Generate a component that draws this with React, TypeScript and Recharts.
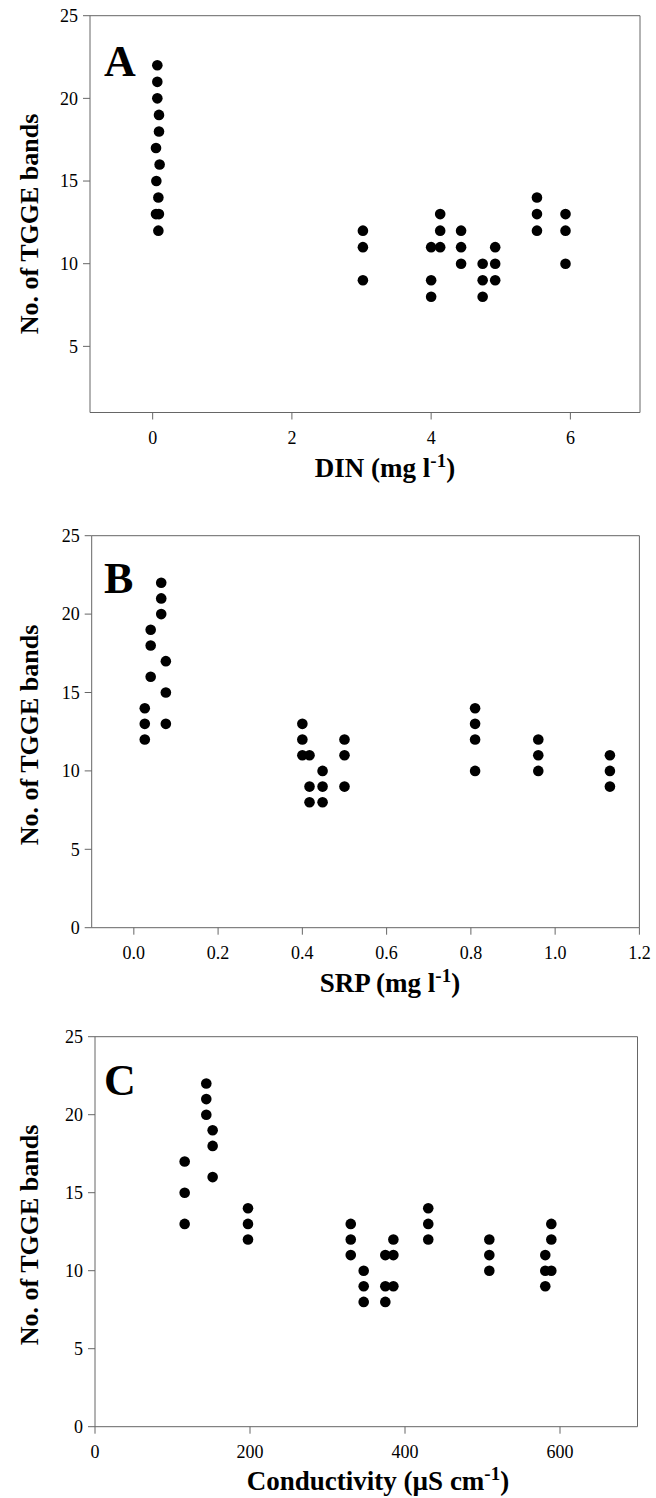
import React from 'react';
import { ScatterChart, Scatter, XAxis, YAxis, ReferenceLine } from 'recharts';

// Panel A: DIN (mg l-1) vs number of TGGE bands
const dinValues = [0.067, 0.067, 0.067, 0.091, 0.091, 0.048, 0.1, 0.053, 0.082, 0.048, 0.09, 0.082,
  3.02, 3.02, 3.02, 4.0, 4.0, 4.0, 4.13, 4.13, 4.13, 4.43, 4.43, 4.43,
  4.74, 4.74, 4.74, 4.92, 4.92, 4.92, 5.52, 5.52, 5.52, 5.93, 5.93, 5.93];
const dinBands = [22, 21, 20, 19, 18, 17, 16, 15, 14, 13, 13, 12,
  12, 11, 9, 11, 9, 8, 13, 12, 11, 12, 11, 10,
  10, 9, 8, 11, 10, 9, 14, 13, 12, 13, 12, 10];

// Panel B: SRP (mg l-1)
const srpValues = [0.065, 0.065, 0.065, 0.04, 0.04, 0.04, 0.076, 0.076, 0.076, 0.026, 0.026, 0.026,
  0.4, 0.4, 0.4, 0.417, 0.417, 0.417, 0.448, 0.448, 0.448, 0.5, 0.5, 0.5,
  0.81, 0.81, 0.81, 0.81, 0.96, 0.96, 0.96, 1.13, 1.13, 1.13];
const srpBands = [22, 21, 20, 19, 18, 16, 17, 15, 13, 14, 13, 12,
  13, 12, 11, 11, 9, 8, 10, 9, 8, 12, 11, 9,
  14, 13, 12, 10, 12, 11, 10, 11, 10, 9];

// Panel C: Conductivity (uS cm-1)
const condValues = [115.7, 115.7, 115.7, 143.6, 143.6, 143.6, 151.8, 151.8, 151.8, 197.4, 197.4, 197.4,
  330, 330, 330, 346.7, 346.7, 346.7, 374.6, 374.6, 374.6, 385, 385, 385,
  430, 430, 430, 508.8, 508.8, 508.8, 581, 581, 581, 588.8, 588.8, 588.8];
const condBands = [17, 15, 13, 22, 21, 20, 19, 18, 16, 14, 13, 12,
  13, 12, 11, 10, 9, 8, 11, 9, 8, 12, 11, 9,
  14, 13, 12, 12, 11, 10, 11, 10, 9, 13, 12, 10];

const dinTicks = [0, 2, 4, 6];
const srpTicks = [0, 0.2, 0.4, 0.6, 0.8, 1.0, 1.2];
const condTicks = [0, 200, 400, 600];
const bandTicksA = [5, 10, 15, 20, 25];
const bandTicks = [0, 5, 10, 15, 20, 25];

const toData = (xs: number[], ys: number[]) => xs.map((x, i) => ({ x, y: ys[i] }));

const FONT = '"Liberation Serif", "Times New Roman", serif';
const AXIS = '#666';

const Dot = (props: any) => <circle cx={props.cx} cy={props.cy} r={5.3} fill="#000" />;

type PanelProps = {
  top: number;
  height: number;
  margin: { top: number; right: number; bottom: number; left: number };
  xDomain: [number, number];
  yDomain: [number, number];
  xTicks: number[];
  yTicks: number[];
  data: { x: number; y: number }[];
  fmt?: (v: number) => string;
};

const Panel = ({ top, height, margin, xDomain, yDomain, xTicks, yTicks, data, fmt }: PanelProps) => (
  <div style={{ position: 'absolute', left: 0, top }}>
    <ScatterChart width={656} height={height} margin={margin}>
      <XAxis
        type="number"
        dataKey="x"
        domain={xDomain}
        ticks={xTicks}
        allowDataOverflow
        height={40}
        tickSize={7}
        tickMargin={12}
        tickFormatter={fmt}
        stroke={AXIS}
        tick={{ fill: '#000', fontSize: 18, fontFamily: FONT }}
        interval={0}
      />
      <YAxis
        type="number"
        dataKey="y"
        domain={yDomain}
        ticks={yTicks}
        allowDataOverflow
        width={50}
        tickSize={7}
        tickMargin={5}
        stroke={AXIS}
        tick={{ fill: '#000', fontSize: 18, fontFamily: FONT }}
        interval={0}
      />
      <ReferenceLine y={yDomain[1]} stroke={AXIS} />
      <ReferenceLine x={xDomain[1]} stroke={AXIS} />
      <Scatter data={data} shape={Dot} isAnimationActive={false} />
    </ScatterChart>
  </div>
);

const YTitle = ({ cy }: { cy: number }) => (
  <text
    x={29}
    y={cy}
    transform={`rotate(-90 29 ${cy})`}
    textAnchor="middle"
    dominantBaseline="central"
    fontFamily={FONT}
    fontWeight="bold"
    fontSize={26}
  >
    No. of TGGE bands
  </text>
);

const XTitle = ({ cx, y, main }: { cx: number; y: number; main: string }) => (
  <text x={cx} y={y} textAnchor="middle" fontFamily={FONT} fontWeight="bold" fontSize={27}>
    {main}
    <tspan dy={-10} fontSize={19}>-1</tspan>
    <tspan dy={10}>)</tspan>
  </text>
);

const Letter = ({ y, t }: { y: number; t: string }) => (
  <text x={104} y={y} fontFamily={FONT} fontWeight="bold" fontSize={44}>{t}</text>
);

export default function App() {
  return (
    <div style={{ position: 'absolute', left: 0, top: 0, width: 656, height: 1498, background: '#fff', overflow: 'hidden' }}>
      <Panel
        top={0}
        height={500}
        margin={{ top: 15.7, right: 16, bottom: 47.5, left: 40 }}
        xDomain={[-0.9, 7]}
        yDomain={[1, 25]}
        xTicks={dinTicks}
        yTicks={bandTicksA}
        data={toData(dinValues, dinBands)}
      />
      <Panel
        top={500}
        height={510}
        margin={{ top: 35.7, right: 16.6, bottom: 42.3, left: 41.7 }}
        xDomain={[-0.1, 1.2]}
        yDomain={[0, 25]}
        xTicks={srpTicks}
        yTicks={bandTicks}
        data={toData(srpValues, srpBands)}
        fmt={(v: number) => v.toFixed(1)}
      />
      <Panel
        top={1010}
        height={488}
        margin={{ top: 26.7, right: 18.5, bottom: 31.3, left: 45 }}
        xDomain={[0, 700]}
        yDomain={[0, 25]}
        xTicks={condTicks}
        yTicks={bandTicks}
        data={toData(condValues, condBands)}
      />
      <svg width={656} height={1498} style={{ position: 'absolute', left: 0, top: 0, pointerEvents: 'none' }}>
        <YTitle cy={224} />
        <YTitle cy={735} />
        <YTitle cy={1235} />
        <XTitle cx={385} y={477} main="DIN (mg l" />
        <XTitle cx={390} y={992} main="SRP (mg l" />
        <XTitle cx={378} y={1490} main="Conductivity (µS cm" />
        <Letter y={76} t="A" />
        <Letter y={593} t="B" />
        <Letter y={1095} t="C" />
      </svg>
    </div>
  );
}
